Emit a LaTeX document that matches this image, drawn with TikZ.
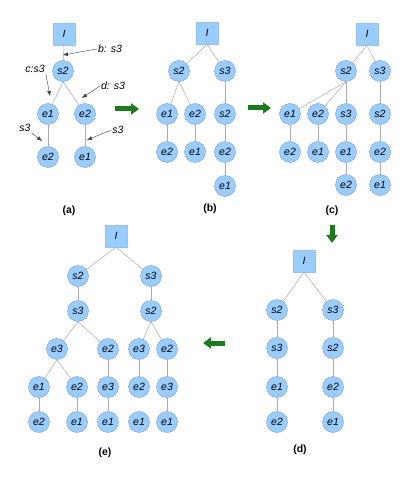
\documentclass[tikz,border=0pt]{standalone}
\usepackage{fontspec}
\setmainfont{Liberation Sans}
\usetikzlibrary{arrows.meta}

\definecolor{nodeblue}{HTML}{99CCFF}
\definecolor{nodeborder}{HTML}{7D9CC2}
\definecolor{edgegray}{HTML}{AAAAAA}
\definecolor{customgreen}{HTML}{1E7A1E}

\begin{document}
\begin{tikzpicture}[x=1pt, y=-1pt]
  \tikzset{
    blue_node/.style={circle, fill=nodeblue, draw=nodeborder, inner sep=0pt, minimum size=21pt, font=\itshape\fontsize{10.5}{12}\selectfont},
    root_node/.style={rectangle, fill=nodeblue, draw=nodeblue!85!gray, inner sep=0pt, minimum size=22pt, font=\itshape\fontsize{10.5}{12}\selectfont},
    tree_edge/.style={draw=edgegray, line width=0.5pt},
    note_label/.style={inner sep=1pt, font=\itshape\fontsize{10.5}{12}\selectfont},
    note_arrow/.style={draw=black!75, line width=0.4pt, -{Latex[length=5pt,width=4pt]}},
    step_arrow/.style={draw=customgreen, line width=5pt, -{Triangle[length=8pt,width=11pt]}},
    caption_label/.style={font=\bfseries\fontsize{10.5}{12}\selectfont}
  }

  % Marco de la figura
  \useasboundingbox (0,0) rectangle (415,481);

  % Árbol (a)
  \node[root_node] (a_I) at (64,34) {I};
  \node[blue_node] (a_s2) at (63,71) {s2};
  \node[blue_node] (a_e1) at (48,114) {e1};
  \node[blue_node] (a_e2) at (85,114) {e2};
  \node[blue_node] (a_e2b) at (48,157) {e2};
  \node[blue_node] (a_e1b) at (85,157) {e1};

  \draw[tree_edge] (a_I.south) -- (a_s2);
  \draw[tree_edge] (a_s2.south) -- (a_e1);
  \draw[tree_edge] (a_s2.south) -- (a_e2);
  \draw[tree_edge] (a_e1.south) -- (a_e2b);
  \draw[tree_edge] (a_e2.south) -- (a_e1b);

  % Anotaciones de (a)
  \node[note_label] (lbl_b) at (110,49) {b: s3};
  \node[note_label] (lbl_c) at (35,69) {c:s3};
  \node[note_label] (lbl_d) at (113,86) {d: s3};
  \node[note_label] (lbl_l) at (25,128) {s3};
  \node[note_label] (lbl_r) at (118,130) {s3};
  \coordinate (tip_b) at (63,55);
  \coordinate (tip_c) at (50,96);
  \coordinate (tip_d) at (82,98);
  \coordinate (tip_l) at (42,141);
  \coordinate (tip_r) at (87,140);

  \draw[note_arrow] (lbl_b.west) -- (tip_b);
  \draw[note_arrow] (lbl_c.south east) -- (tip_c);
  \draw[note_arrow] (lbl_d.west) -- (tip_d);
  \draw[note_arrow] (lbl_l.south east) -- (tip_l);
  \draw[note_arrow] (lbl_r.west) -- (tip_r);

  \node[caption_label] (cap_a) at (69,211) {(a)};

  % Árbol (b)
  \node[root_node] (b_I) at (207,33) {I};
  \node[blue_node] (b_s2) at (179,71) {s2};
  \node[blue_node] (b_s3) at (225,71) {s3};
  \node[blue_node] (b_e1) at (167,114) {e1};
  \node[blue_node] (b_e2) at (195,114) {e2};
  \node[blue_node] (b_s2b) at (225,114) {s2};
  \node[blue_node] (b_e2b) at (167,152) {e2};
  \node[blue_node] (b_e1b) at (195,152) {e1};
  \node[blue_node] (b_e2c) at (225,152) {e2};
  \node[blue_node] (b_e1c) at (225,186) {e1};

  \draw[tree_edge] (b_I.south) -- (b_s2);
  \draw[tree_edge] (b_I.south) -- (b_s3);
  \draw[tree_edge] (b_s2.south) -- (b_e1);
  \draw[tree_edge] (b_s2.south) -- (b_e2);
  \draw[tree_edge] (b_s3.south) -- (b_s2b);
  \draw[tree_edge] (b_e1.south) -- (b_e2b);
  \draw[tree_edge] (b_e2.south) -- (b_e1b);
  \draw[tree_edge] (b_s2b.south) -- (b_e2c);
  \draw[tree_edge] (b_e2c.south) -- (b_e1c);

  \node[caption_label] (cap_b) at (210,209) {(b)};

  % Árbol (c)
  \node[root_node] (c_I) at (367,34) {I};
  \node[blue_node] (c_s2) at (346,71) {s2};
  \node[blue_node] (c_s3) at (380,71) {s3};
  \node[blue_node] (c_e1) at (290,114) {e1};
  \node[blue_node] (c_e2) at (318,114) {e2};
  \node[blue_node] (c_s3b) at (346,114) {s3};
  \node[blue_node] (c_s2b) at (380,114) {s2};
  \node[blue_node] (c_e2b) at (290,152) {e2};
  \node[blue_node] (c_e1b) at (318,152) {e1};
  \node[blue_node] (c_e1c) at (346,152) {e1};
  \node[blue_node] (c_e2c) at (380,152) {e2};
  \node[blue_node] (c_e2d) at (346,185) {e2};
  \node[blue_node] (c_e1d) at (380,185) {e1};

  \draw[tree_edge] (c_I.south) -- (c_s2);
  \draw[tree_edge] (c_I.south) -- (c_s3);
  \draw[tree_edge] (c_s2.south) -- (c_e1);
  \draw[tree_edge] (c_s2.south) -- (c_e2);
  \draw[tree_edge] (c_s2.south) -- (c_s3b);
  \draw[tree_edge] (c_s3.south) -- (c_s2b);
  \draw[tree_edge] (c_e1.south) -- (c_e2b);
  \draw[tree_edge] (c_e2.south) -- (c_e1b);
  \draw[tree_edge] (c_s3b.south) -- (c_e1c);
  \draw[tree_edge] (c_s2b.south) -- (c_e2c);
  \draw[tree_edge] (c_e1c.south) -- (c_e2d);
  \draw[tree_edge] (c_e2c.south) -- (c_e1d);

  \node[caption_label] (cap_c) at (332,211) {(c)};

  % Árbol (d)
  \node[root_node] (d_I) at (304,261) {I};
  \node[blue_node] (d_s2) at (277,310) {s2};
  \node[blue_node] (d_s3) at (333,310) {s3};
  \node[blue_node] (d_s3b) at (277,348) {s3};
  \node[blue_node] (d_s2b) at (333,348) {s2};
  \node[blue_node] (d_e1) at (277,387) {e1};
  \node[blue_node] (d_e2) at (333,387) {e2};
  \node[blue_node] (d_e2b) at (277,422) {e2};
  \node[blue_node] (d_e1b) at (333,422) {e1};

  \draw[tree_edge] (d_I.south) -- (d_s2);
  \draw[tree_edge] (d_I.south) -- (d_s3);
  \draw[tree_edge] (d_s2.south) -- (d_s3b);
  \draw[tree_edge] (d_s3.south) -- (d_s2b);
  \draw[tree_edge] (d_s3b.south) -- (d_e1);
  \draw[tree_edge] (d_s2b.south) -- (d_e2);
  \draw[tree_edge] (d_e1.south) -- (d_e2b);
  \draw[tree_edge] (d_e2.south) -- (d_e1b);

  \node[caption_label] (cap_d) at (300,450) {(d)};

  % Árbol (e)
  \node[root_node] (e_I) at (116,236) {I};
  \node[blue_node] (e_s2) at (78,276) {s2};
  \node[blue_node] (e_s3) at (151,276) {s3};
  \node[blue_node] (e_s3b) at (78,311) {s3};
  \node[blue_node] (e_s2b) at (151,311) {s2};
  \node[blue_node] (e_e3) at (57,349) {e3};
  \node[blue_node] (e_e2) at (108,349) {e2};
  \node[blue_node] (e_e3b) at (139,349) {e3};
  \node[blue_node] (e_e2b) at (167,349) {e2};
  \node[blue_node] (e_e1) at (39,387) {e1};
  \node[blue_node] (e_e2c) at (77,387) {e2};
  \node[blue_node] (e_e3c) at (108,387) {e3};
  \node[blue_node] (e_e2d) at (139,387) {e2};
  \node[blue_node] (e_e3d) at (167,387) {e3};
  \node[blue_node] (e_e2e) at (39,422) {e2};
  \node[blue_node] (e_e1b) at (77,422) {e1};
  \node[blue_node] (e_e1c) at (108,422) {e1};
  \node[blue_node] (e_e1d) at (139,422) {e1};
  \node[blue_node] (e_e1e) at (167,422) {e1};

  \draw[tree_edge] (e_I.south) -- (e_s2);
  \draw[tree_edge] (e_I.south) -- (e_s3);
  \draw[tree_edge] (e_s2.south) -- (e_s3b);
  \draw[tree_edge] (e_s3.south) -- (e_s2b);
  \draw[tree_edge] (e_s3b.south) -- (e_e3);
  \draw[tree_edge] (e_s3b.south) -- (e_e2);
  \draw[tree_edge] (e_s2b.south) -- (e_e3b);
  \draw[tree_edge] (e_s2b.south) -- (e_e2b);
  \draw[tree_edge] (e_e3.south) -- (e_e1);
  \draw[tree_edge] (e_e3.south) -- (e_e2c);
  \draw[tree_edge] (e_e2.south) -- (e_e3c);
  \draw[tree_edge] (e_e3b.south) -- (e_e2d);
  \draw[tree_edge] (e_e2b.south) -- (e_e3d);
  \draw[tree_edge] (e_e1.south) -- (e_e2e);
  \draw[tree_edge] (e_e2c.south) -- (e_e1b);
  \draw[tree_edge] (e_e3c.south) -- (e_e1c);
  \draw[tree_edge] (e_e3d.south) -- (e_e1e);

  \node[caption_label] (cap_e) at (105,453) {(e)};

  % Flechas verdes entre pasos
  \coordinate (ab_from) at (115,109);
  \coordinate (ab_to) at (139,109);
  \coordinate (bc_from) at (248,108);
  \coordinate (bc_to) at (271,108);
  \coordinate (cd_from) at (332,225);
  \coordinate (cd_to) at (332,243);
  \coordinate (de_from) at (225,343);
  \coordinate (de_to) at (203,343);

  \draw[step_arrow] (ab_from) -- (ab_to);
  \draw[step_arrow] (bc_from) -- (bc_to);
  \draw[step_arrow] (cd_from) -- (cd_to);
  \draw[step_arrow] (de_from) -- (de_to);
\end{tikzpicture}
\end{document}
